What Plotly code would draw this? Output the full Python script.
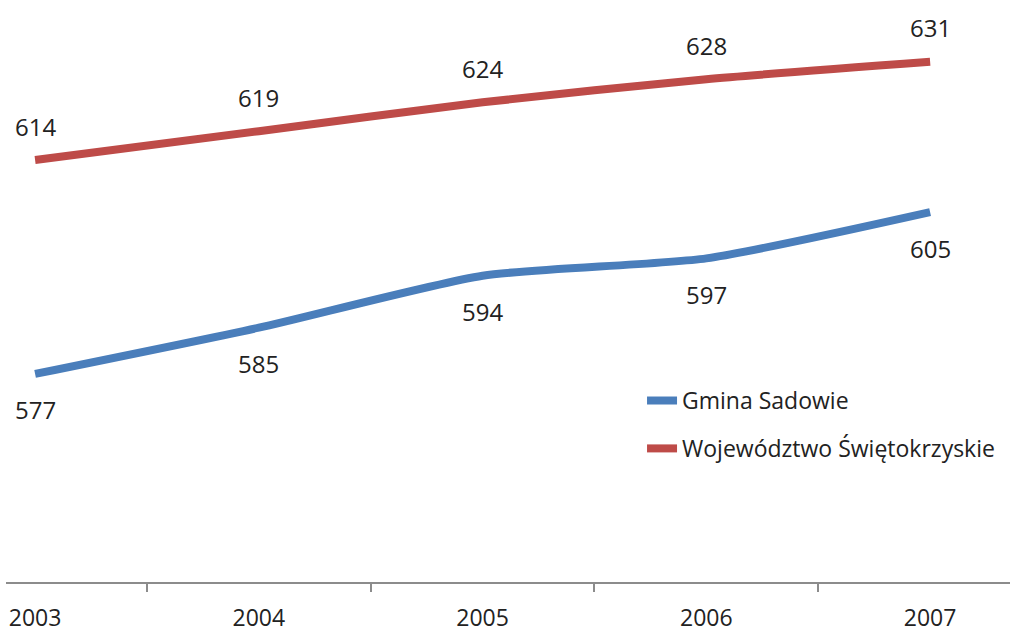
import plotly.graph_objects as go

years = ["2003", "2004", "2005", "2006", "2007"]
gmina = [577, 585, 594, 597, 605]
wojew = [614, 619, 624, 628, 631]
series_names = ["Gmina Sadowie", "Województwo Świętokrzyskie"]
colors = ["#4A7EBB", "#BE4B48"]

xs = list(range(len(years)))
FONT = "Open Sans, sans-serif"

fig = go.Figure()
for i, (name, vals) in enumerate(zip(series_names, [gmina, wojew])):
    fig.add_trace(go.Scatter(
        x=xs, y=vals, mode="lines", name=name,
        line=dict(color=colors[i], width=8, shape="spline", smoothing=0.6),
        legendgroup=f"g{i}", hoverinfo="skip",
    ))

annotations = []
for x, v in zip(xs, gmina):
    annotations.append(dict(x=x, y=v, text=str(v), showarrow=False, yshift=-36,
                            font=dict(size=24, color="#222", family=FONT)))
for x, v in zip(xs, wojew):
    annotations.append(dict(x=x, y=v, text=str(v), showarrow=False, yshift=34,
                            font=dict(size=24, color="#222", family=FONT)))

fig.update_layout(
    width=1010, height=637,
    margin=dict(l=6, r=0, t=0, b=55, autoexpand=False),
    paper_bgcolor="white", plot_bgcolor="white",
    font=dict(family=FONT, color="#222"),
    annotations=annotations,
    showlegend=True,
    legend=dict(x=0.6335, y=0.3487, xanchor="left", yanchor="top",
                font=dict(size=23, family=FONT, color="#222"),
                tracegroupgap=15, bgcolor="rgba(0,0,0,0)"),
    xaxis=dict(
        range=[-0.13, 4.357], tickmode="array", tickvals=xs, ticktext=years,
        ticks="", showgrid=False, zeroline=False, automargin=False,
        showline=True, linecolor="#8c8c8c", linewidth=1.5,
        tickfont=dict(size=23, family=FONT, color="#222"),
        ticklabelstandoff=15,
        minor=dict(tickvals=[0.5, 1.5, 2.5, 3.5], ticks="outside", ticklen=8,
                   tickcolor="#8c8c8c", tickwidth=1.5, showgrid=False),
        fixedrange=True,
    ),
    yaxis=dict(range=[541, 641.7], visible=False, showgrid=False, zeroline=False,
               automargin=False),
)

fig.write_html(
    "out.html",
    config={"displayModeBar": False},
    post_script="document.body.style.margin='0';document.body.style.overflow='hidden';",
)
